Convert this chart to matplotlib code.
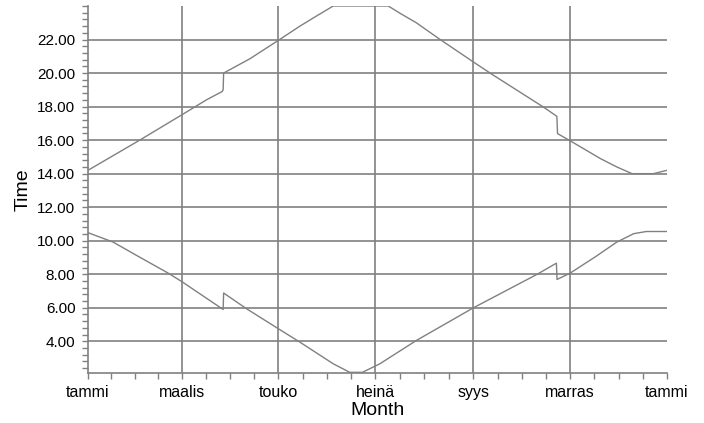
import matplotlib
matplotlib.use("Agg")
import matplotlib.pyplot as plt
from matplotlib.ticker import MultipleLocator, FixedLocator, FuncFormatter
import numpy as np

plt.rcParams["font.family"] = ["Liberation Sans", "DejaVu Sans"]

# day of year vs. sunset time (hours, local)
sunset_day = [0, 32.6, 59, 75, 83, 84.6, 85.2, 85.5, 102, 120, 133.6, 144, 154.6,
              189.3, 197, 207, 222, 243, 254.6, 287, 295.6, 296.0, 304, 323, 333.4, 343, 356.5, 365]
sunset = [14.2, 16.0, 17.5, 18.42, 18.82, 18.9, 19.0, 20.0, 20.85, 21.95, 22.8, 23.4, 24.0,
          24.0, 23.55, 23.0, 22.0, 20.66, 19.93, 17.98, 17.42, 16.39, 15.96, 14.9, 14.4, 14.0, 14.0, 14.2]

# day of year vs. sunrise time
sunrise_day = [0, 15.8, 32, 50.5, 59, 85.2, 85.5, 100, 120, 133.6, 154.6, 165, 173, 184, 207, 243,
               283, 295.3, 295.7, 304, 320, 333.4, 344, 352, 365]
sunrise = [10.48, 9.92, 9.05, 8.07, 7.57, 5.9, 6.88, 5.94, 4.75, 3.95, 2.66, 2.15, 2.15, 2.66, 4.05, 6.0,
           7.99, 8.66, 7.69, 8.07, 9.05, 9.92, 10.42, 10.55, 10.55]

month_days = [0, 59, 120, 181, 243, 304, 365]
month_labels = ["tammi", "maalis", "touko", "heinä", "syys", "marras", "tammi"]

fig = plt.figure(figsize=(7.04, 4.23), dpi=100)
ax = fig.add_axes([0.125, 0.119, 0.8224, 0.8668])

line_color = "#808080"
ax.plot(sunset_day, sunset, color=line_color, linewidth=1.0)
ax.plot(sunrise_day, sunrise, color=line_color, linewidth=1.0)

ax.set_xlim(0, 365)
ax.set_ylim(2.13, 24.0)

ax.xaxis.set_major_locator(FixedLocator(month_days))
ax.set_xticklabels(month_labels, fontsize=11.5)
minor_x = []
for a, b in zip(month_days[:-1], month_days[1:]):
    minor_x += [a + (b - a) * k / 4 for k in (1, 2, 3)]
ax.xaxis.set_minor_locator(FixedLocator(minor_x))

ax.yaxis.set_major_locator(FixedLocator(np.arange(4, 23, 2)))
ax.yaxis.set_major_formatter(FuncFormatter(lambda v, p: f"{v:.2f}"))
ax.yaxis.set_minor_locator(MultipleLocator(0.4))
ax.tick_params(axis="y", labelsize=11, pad=5)

ax.tick_params(which="both", direction="out", length=4, color=line_color, width=1)
ax.tick_params(axis="x", pad=5)

ax.grid(True, which="major", color=line_color, linewidth=1.2)
ax.xaxis.get_gridlines()[-1].set_visible(False)
ax.xaxis.get_gridlines()[0].set_visible(False)

for s in ["top", "right"]:
    ax.spines[s].set_visible(False)
for s in ["left", "bottom"]:
    ax.spines[s].set_color(line_color)
    ax.spines[s].set_linewidth(1.2)

ax.set_xlabel("Month", fontsize=14, labelpad=1)
ax.set_ylabel("Time", fontsize=14, labelpad=4)

plt.savefig("out.png", dpi=100)
